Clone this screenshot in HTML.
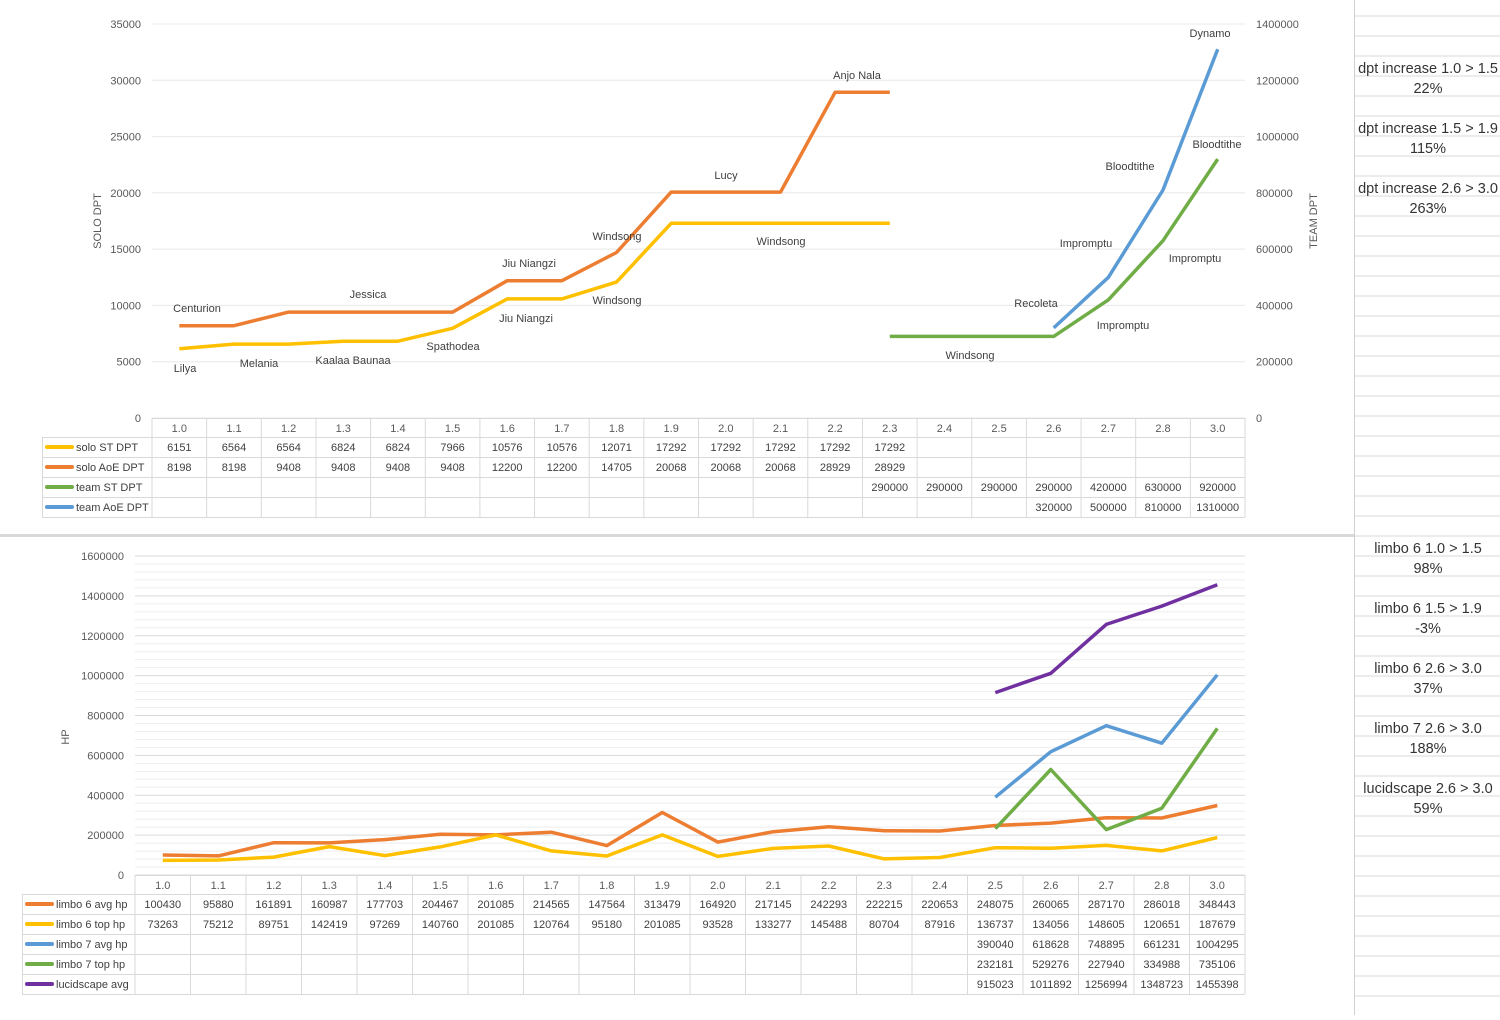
<!DOCTYPE html>
<html><head><meta charset="utf-8"><style>
body{margin:0;background:#fff;width:1500px;height:1015px;overflow:hidden;font-family:"Liberation Sans",sans-serif}
svg text{font-family:"Liberation Sans",sans-serif}
</style></head><body>
<svg id="s" width="1500" height="1015" xmlns="http://www.w3.org/2000/svg"></svg>
<script>
const cats=["1.0","1.1","1.2","1.3","1.4","1.5","1.6","1.7","1.8","1.9","2.0","2.1","2.2","2.3","2.4","2.5","2.6","2.7","2.8","3.0"];
const soloST=[6151,6564,6564,6824,6824,7966,10576,10576,12071,17292,17292,17292,17292,17292,null,null,null,null,null,null];
const soloAoE=[8198,8198,9408,9408,9408,9408,12200,12200,14705,20068,20068,20068,28929,28929,null,null,null,null,null,null];
const teamST=[null,null,null,null,null,null,null,null,null,null,null,null,null,290000,290000,290000,290000,420000,630000,920000];
const teamAoE=[null,null,null,null,null,null,null,null,null,null,null,null,null,null,null,null,320000,500000,810000,1310000];
const leftTicks=[0,5000,10000,15000,20000,25000,30000,35000];
const rightTicks=[0,200000,400000,600000,800000,1000000,1200000,1400000];
const l6avg=[100430,95880,161891,160987,177703,204467,201085,214565,147564,313479,164920,217145,242293,222215,220653,248075,260065,287170,286018,348443];
const l6top=[73263,75212,89751,142419,97269,140760,201085,120764,95180,201085,93528,133277,145488,80704,87916,136737,134056,148605,120651,187679];
const l7avg=[null,null,null,null,null,null,null,null,null,null,null,null,null,null,null,390040,618628,748895,661231,1004295];
const l7top=[null,null,null,null,null,null,null,null,null,null,null,null,null,null,null,232181,529276,227940,334988,735106];
const lucid=[null,null,null,null,null,null,null,null,null,null,null,null,null,null,null,915023,1011892,1256994,1348723,1455398];
const hpTicks=[0,200000,400000,600000,800000,1000000,1200000,1400000,1600000];
const notes1=[["dpt increase 1.0 > 1.5","22%"],["dpt increase 1.5 > 1.9","115%"],["dpt increase 2.6 > 3.0","263%"]];
const notes2=[["limbo 6 1.0 > 1.5","98%"],["limbo 6 1.5 > 1.9","-3%"],["limbo 6 2.6 > 3.0","37%"],["limbo 7 2.6 > 3.0","188%"],["lucidscape 2.6 > 3.0","59%"]];
const annotations=[["Lilya",185,372],["Melania",259,367],["Kaalaa Baunaa",353,364],["Spathodea",453,350],["Jiu Niangzi",526,322],["Windsong",617,304],["Windsong",781,245],["Centurion",197,312],["Jessica",368,298],["Jiu Niangzi",529,267],["Windsong",617,240],["Lucy",726,179],["Anjo Nala",857,79],["Windsong",970,359],["Impromptu",1123,329],["Impromptu",1195,262],["Bloodtithe",1217,148],["Recoleta",1036,307],["Impromptu",1086,247],["Bloodtithe",1130,170],["Dynamo",1210,37]];
const C={o:"#ED7D31",y:"#FFC000",g:"#70AD47",b:"#5B9BD5",p:"#7030A0"};
const S=document.getElementById('s');const NS="http://www.w3.org/2000/svg";
function el(t,a,txt){const e=document.createElementNS(NS,t);for(const k in a)e.setAttribute(k,a[k]);if(txt!==undefined)e.textContent=txt;S.appendChild(e);return e;}
for(let y=16;y<1015;y+=20){const e=el('line',{x1:1354,x2:1500,y1:y,y2:y,stroke:"#d9d9d9","stroke-width":1});}
{const e=el('line',{x1:1354.5,x2:1354.5,y1:0,y2:1015,stroke:"#d0d0d0","stroke-width":1});}
{const e=el('rect',{x:0,y:534,width:1354,height:3,fill:"#d9d9d9"});}
function notes(arr,y0,name){arr.forEach((n,i)=>{const y=y0+i*60;
const a=el('text',{x:1428,y:y,"text-anchor":"middle","font-size":14.5,fill:"#333"},n[0]);
const b=el('text',{x:1428,y:y+20,"text-anchor":"middle","font-size":14.5,fill:"#333"},n[1]);});}
notes(notes1,73,'dpt-note');notes(notes2,553,'limbo-note');
function chart(o){
 const n=cats.length,cw=(o.x1-o.x0)/n,cx=i=>o.x0+cw*(i+.5);
 const yl=v=>o.yb-(v/o.lmax)*(o.yb-o.yt),yr=v=>o.yb-(v/o.rmax)*(o.yb-o.yt);
 for(let k=0;k<o.minor;k++){const y=o.yb-(o.yb-o.yt)*k/o.minor;const e=el('line',{x1:o.x0,x2:o.x1,y1:y,y2:y,stroke:k%o.mstep==0?o.gc:"#eeeeee","stroke-width":1});}
 {const e=el('line',{x1:o.x0,x2:o.x1,y1:o.yt,y2:o.yt,stroke:o.gc});}
 o.lt.forEach(v=>{const e=el('text',{x:o.lx,y:yl(v)+4,"text-anchor":"end","font-size":11,fill:"#595959"},v);});
 if(o.rt)o.rt.forEach(v=>{const e=el('text',{x:o.rx,y:yr(v)+4,"font-size":11,fill:"#595959"},v);});
 const rows=o.series.length,rh=20,ty=o.yb;
 for(let r=0;r<=rows+1;r++){const y=ty+(r==0?0:19+(r-1)*rh);const e=el('line',{x1:r==0?o.x0:o.tx,x2:o.x1,y1:y+.5,y2:y+.5,stroke:"#d9d9d9"});}
 const tb=ty+19+rows*rh;
 for(let i=0;i<=n;i++){const x=o.x0+cw*i;const e=el('line',{x1:x,x2:x,y1:ty,y2:tb,stroke:"#d9d9d9"});}
 {const e=el('line',{x1:o.tx+.5,x2:o.tx+.5,y1:ty+19,y2:tb,stroke:"#d9d9d9"});}
 cats.forEach((c,i)=>{const e=el('text',{x:cx(i),y:ty+14,"text-anchor":"middle","font-size":11,fill:"#595959"},c);});
 o.series.forEach((s,r)=>{const y=ty+19+r*rh+14;
  const k=el('line',{x1:o.tx+5,x2:o.tx+30,y1:y-4,y2:y-4,stroke:s.c,"stroke-width":4,"stroke-linecap":"round"});
  const t=el('text',{x:o.tx+34,y:y,"font-size":11,fill:"#404040"},s.n);
  s.d.forEach((v,i)=>{if(v!=null){const e=el('text',{x:cx(i),y:y,"text-anchor":"middle","font-size":11,fill:"#404040"},v);}});
  const fy=s.r?yr:yl;let pts=[];s.d.forEach((v,i)=>{if(v!=null)pts.push(cx(i).toFixed(1)+","+fy(v).toFixed(1));});
  const p=el('polyline',{points:pts.join(" "),fill:"none",stroke:s.c,"stroke-width":3.5,"stroke-linejoin":"round"});
 });
}
chart({x0:152,x1:1245,yt:24,yb:418,lmax:35000,rmax:1400000,lt:leftTicks,rt:rightTicks,lx:141,rx:1256,minor:7,mstep:1,gc:"#e8e8e8",tx:42,
 series:[{n:"solo ST DPT",c:C.y,d:soloST},{n:"solo AoE DPT",c:C.o,d:soloAoE},{n:"team ST DPT",c:C.g,d:teamST,r:1},{n:"team AoE DPT",c:C.b,d:teamAoE,r:1}]});
chart({x0:135,x1:1245,yt:556,yb:875,lmax:1600000,lt:hpTicks,lx:124,minor:40,mstep:5,gc:"#d9d9d9",tx:22,
 series:[{n:"limbo 6 avg hp",c:C.o,d:l6avg},{n:"limbo 6 top hp",c:C.y,d:l6top},{n:"limbo 7 avg hp",c:C.b,d:l7avg},{n:"limbo 7 top hp",c:C.g,d:l7top},{n:"lucidscape avg",c:C.p,d:lucid}]});
annotations.forEach(a=>{const e=el('text',{x:a[1],y:a[2],"text-anchor":"middle","font-size":11,fill:"#404040"},a[0]);});
[["SOLO DPT",101,221],["TEAM DPT",1317,221],["HP",69,737]].forEach(a=>{const e=el('text',{x:a[1],y:a[2],"text-anchor":"middle","font-size":11,fill:"#595959",transform:`rotate(-90 ${a[1]} ${a[2]})`},a[0]);});
</script>
</body></html>
